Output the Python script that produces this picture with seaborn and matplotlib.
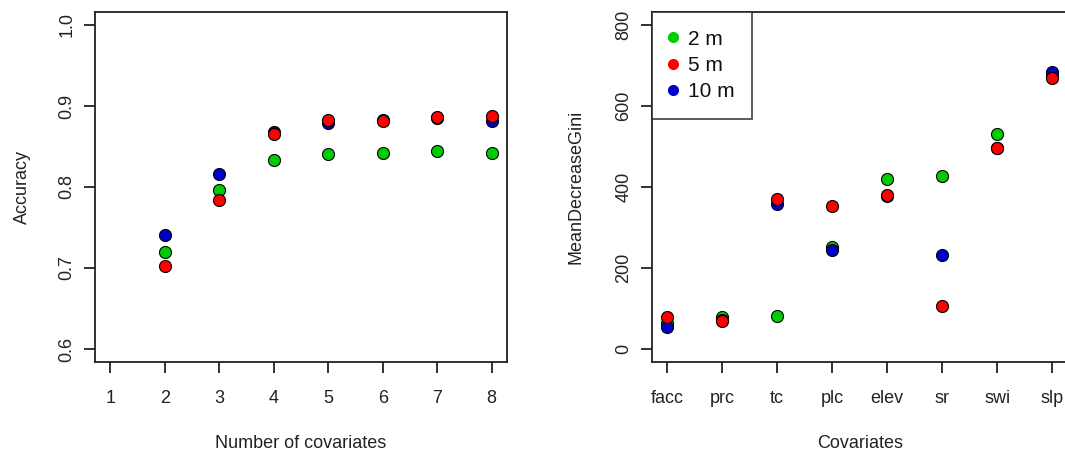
import numpy as np
import pandas as pd
import matplotlib
matplotlib.use('Agg')
import matplotlib.pyplot as plt
import seaborn as sns
from matplotlib.lines import Line2D

sns.set_style('ticks')
plt.rcParams['font.family'] = ['Liberation Sans', 'DejaVu Sans']

# left panel: accuracy vs number of covariates
n_cov = [2, 3, 4, 5, 6, 7, 8]
acc_2m = [0.720, 0.796, 0.833, 0.841, 0.842, 0.845, 0.842]
acc_5m = [0.702, 0.784, 0.865, 0.883, 0.882, 0.886, 0.888]
acc_10m = [0.741, 0.816, 0.868, 0.879, 0.883, 0.885, 0.882]

# right panel: importance of each covariate
covs = ['facc', 'prc', 'tc', 'plc', 'elev', 'sr', 'swi', 'slp']
gini_2m = [65, 78, 81, 252, 419, 427, 530, 675]
gini_5m = [78, 69, 371, 353, 380, 106, 497, 668]
gini_10m = [55, 72, 358, 244, 378, 233, 497, 683]

green = '#00CD00'
red = '#FF0000'
blue = '#0000CD'

fig = plt.figure(figsize=(10.65, 4.53), dpi=100)
ax1 = fig.add_axes([95/1065, 91/453, 412/1065, 350/453])
ax2 = fig.add_axes([651.7/1065, 91/453, 416/1065, 350/453])

pts = dict(s=75, edgecolor='black', linewidth=0.8, legend=False, zorder=3)

# drawing order green, blue, red (red ends up on top)
sns.scatterplot(x=n_cov, y=acc_2m, color=green, ax=ax1, **pts)
sns.scatterplot(x=n_cov, y=acc_10m, color=blue, ax=ax1, **pts)
sns.scatterplot(x=n_cov, y=acc_5m, color=red, ax=ax1, **pts)

xpos = np.arange(1, len(covs) + 1)
sns.scatterplot(x=xpos, y=gini_2m, color=green, ax=ax2, **pts)
sns.scatterplot(x=xpos, y=gini_10m, color=blue, ax=ax2, **pts)
sns.scatterplot(x=xpos, y=gini_5m, color=red, ax=ax2, **pts)

ax1.set_xlim(0.72, 8.28)
ax1.set_ylim(0.584, 1.016)
ax1.set_xticks(range(1, 9))
ax1.set_yticks([0.6, 0.7, 0.8, 0.9, 1.0])
ax1.set_yticklabels(['0.6', '0.7', '0.8', '0.9', '1.0'], rotation=90, va='center')
ax1.set_xlabel('Number of covariates', fontsize=13, labelpad=20)
ax1.set_ylabel('Accuracy', fontsize=13, labelpad=20)

ax2.set_xlim(0.72, 8.28)
ax2.set_ylim(-32, 832)
ax2.set_xticks(xpos)
ax2.set_xticklabels(covs)
ax2.set_yticks([0, 200, 400, 600, 800])
ax2.set_yticklabels(['0', '200', '400', '600', '800'], rotation=90, va='center')
ax2.set_xlabel('Covariates', fontsize=13, labelpad=20)
ax2.set_ylabel('MeanDecreaseGini', fontsize=13, labelpad=22)

for ax in (ax1, ax2):
    for sp in ax.spines.values():
        sp.set_visible(True)
        sp.set_linewidth(1.3)
        sp.set_color('#222222')
    ax.tick_params(axis='both', length=8, width=1.3, color='#222222',
                   labelsize=13, labelcolor='#222222', direction='out')
    ax.tick_params(axis='x', pad=12)
    ax.tick_params(axis='y', pad=6)
    ax.xaxis.label.set_color('#222222')
    ax.yaxis.label.set_color('#222222')

handles = [Line2D([], [], marker='o', linestyle='', markersize=7, color=c)
           for c in (green, red, blue)]
leg = ax2.legend(handles, ['2 m', '5 m', '10 m'], loc='upper left',
                 fontsize=15, frameon=True, fancybox=False, borderaxespad=0,
                 handletextpad=0.6, handlelength=0.3, borderpad=0.85,
                 labelspacing=0.35)
leg.get_frame().set_edgecolor('#222222')
leg.get_frame().set_linewidth(1.3)
for t in leg.get_texts():
    t.set_color('#111111')

fig.savefig('out.png', dpi=100)
